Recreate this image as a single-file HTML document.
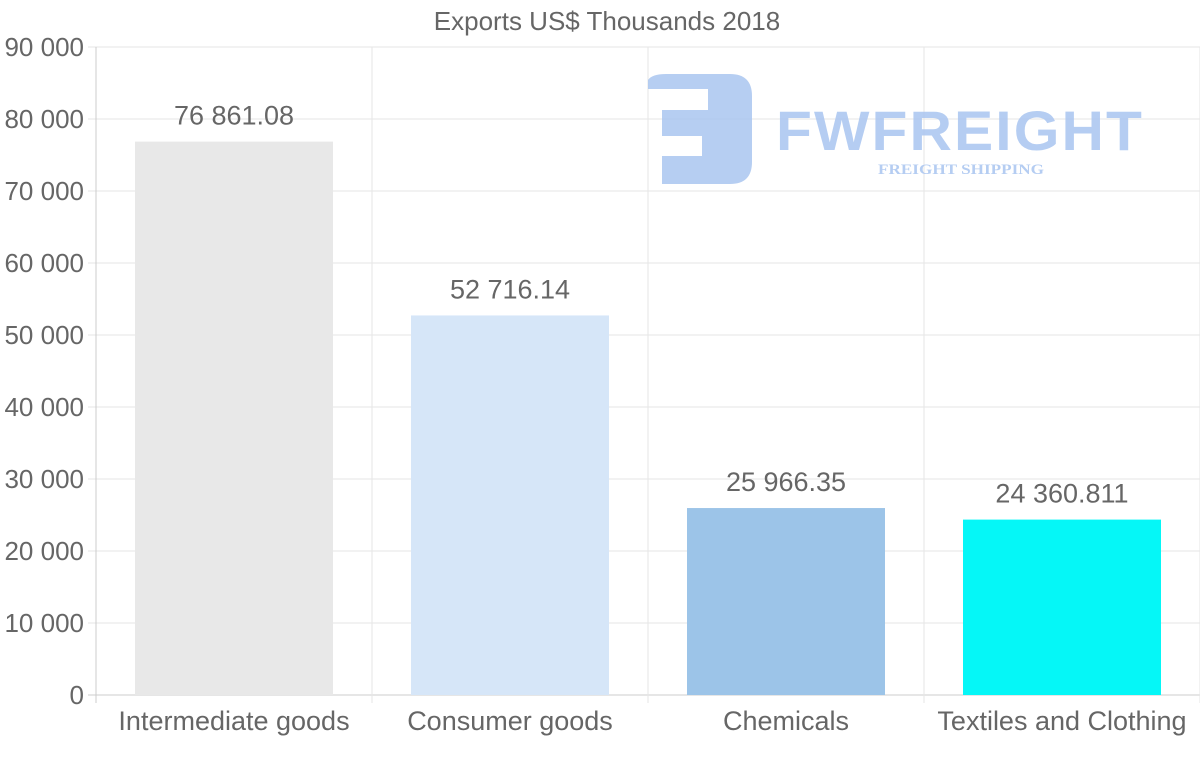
<!DOCTYPE html>
<html><head><meta charset="utf-8"><style>
html,body{margin:0;padding:0;background:#fff;width:1200px;height:763px;overflow:hidden}
svg{display:block;font-family:"Liberation Sans",Arial,sans-serif}
</style></head><body>
<svg id="chart" width="1200" height="763">
<text x="607" y="30" text-anchor="middle" font-size="26" fill="#666">Exports US$ Thousands 2018</text>
<g id="grid"></g>
<g opacity="0.85">
<path d="M648,80 Q652,74 666,74 L730,74 Q752,74 752,96 L752,162 Q752,184 730,184 L662,184 L662,156 L702,156 L702,136 L662,136 L662,110 L708,110 L708,89 L648,89 Z" fill="#a9c5f0"/>
<text x="960" y="150" text-anchor="middle" font-size="56" font-weight="bold" fill="#a9c5f0" letter-spacing="2" textLength="368" lengthAdjust="spacingAndGlyphs">FWFREIGHT</text>
<text x="961" y="174" text-anchor="middle" font-size="15" font-weight="bold" font-family="Liberation Serif,serif" fill="#a9c5f0" textLength="166" lengthAdjust="spacingAndGlyphs">FREIGHT SHIPPING</text>
</g>
<g id="bars"></g>
</svg>
<script>
const categories=["Intermediate goods","Consumer goods","Chemicals","Textiles and Clothing"];
const values=[76861.08,52716.14,25966.35,24360.811];
const valueLabels=["76 861.08","52 716.14","25 966.35","24 360.811"];
const colors=["#e8e8e8","#d6e6f8","#9cc4e8","#05f7f7"];
const yTicks=[0,10000,20000,30000,40000,50000,60000,70000,80000,90000];
const tickLabels=["0","10 000","20 000","30 000","40 000","50 000","60 000","70 000","80 000","90 000"];
const NS="http://www.w3.org/2000/svg";
const x0=96,x1=1200,yTop=47,yBot=695,yMax=90000;
const y=v=>yBot-(v/yMax)*(yBot-yTop);
const band=(x1-x0)/categories.length;
const grid=document.getElementById('grid'),bars=document.getElementById('bars');
function mk(t,a,p){const e=document.createElementNS(NS,t);for(const k in a)e.setAttribute(k,a[k]);p.appendChild(e);return e;}
yTicks.forEach((v,i)=>{
 const l=mk('line',{x1:88,x2:x1,y1:y(v),y2:y(v),stroke:i==0?'#ccc':'#e6e6e6','stroke-width':1},grid);
 
 
 const t=mk('text',{x:84,y:y(v)+9,'text-anchor':'end','font-size':26,fill:'#666'},grid);
 t.textContent=tickLabels[i];
 
 
});
for(let i=0;i<=categories.length;i++){
 const gx=x0+i*band;
 const l=mk('line',{x1:gx,x2:gx,y1:yTop,y2:703,stroke:i==0?'#ccc':'#e6e6e6','stroke-width':1},grid);
 
 
}
categories.forEach((c,i)=>{
 const cx=x0+band*(i+0.5),w=198;
 const r=mk('rect',{x:cx-w/2,y:y(values[i]),width:w,height:yBot-y(values[i]),fill:colors[i]},bars);
 
 
 const v=mk('text',{x:cx,y:y(values[i])-17,'text-anchor':'middle','font-size':27,fill:'#666'},bars);
 v.textContent=valueLabels[i];
 
 
 const t=mk('text',{x:cx,y:730,'text-anchor':'middle','font-size':27,fill:'#666'},bars);
 t.textContent=c;
 
 
});
</script>
</body></html>
